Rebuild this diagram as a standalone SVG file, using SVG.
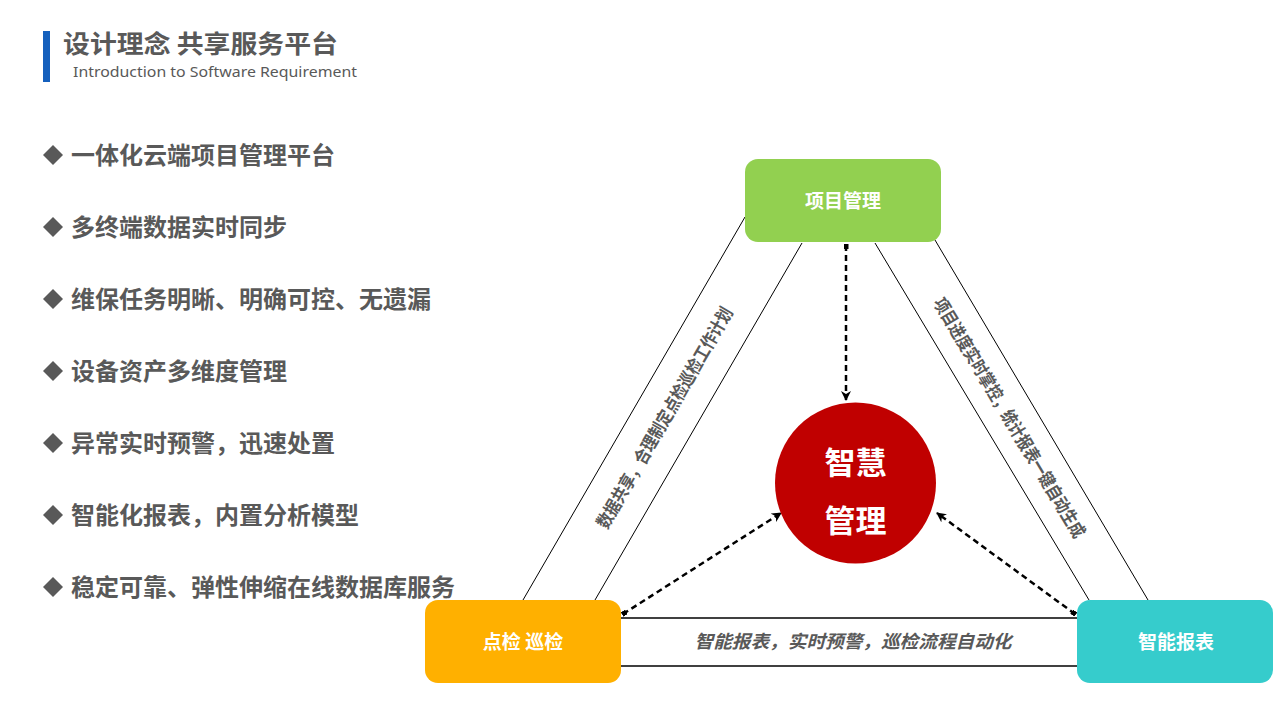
<svg xmlns="http://www.w3.org/2000/svg" width="1280" height="720" viewBox="0 0 1280 720">
<defs>
<style>
.cn{font-family:"Noto Sans CJK SC","Liberation Sans",sans-serif;font-weight:bold}
.bul{font-size:24px;fill:#595959}
.lbl{font-size:19px;fill:#ffffff;text-anchor:middle}
.side{font-size:18px;fill:#595959;text-anchor:middle}
.edge{stroke:#000;stroke-width:1;fill:none}
.dash{stroke:#000;stroke-width:2.5;stroke-dasharray:6 4;fill:none}
</style>
<marker id="ah" viewBox="0 0 10 10" refX="9" refY="5" markerWidth="4" markerHeight="4" orient="auto" markerUnits="strokeWidth">
<path d="M0,0 L10,5 L0,10 L3,5 z" fill="#000"/>
</marker>
<marker id="tail" viewBox="0 0 10 10" refX="2" refY="5" markerWidth="2" markerHeight="2" orient="auto" markerUnits="strokeWidth">
<rect x="0" y="0" width="10" height="10" fill="#000"/>
</marker>
</defs>
<rect width="1280" height="720" fill="#fff"/>

<g id="header">
<rect x="43" y="31" width="7" height="51" fill="#1560BD"/>
<text x="63" y="53" class="cn" font-size="25" fill="#595959" textLength="275" lengthAdjust="spacingAndGlyphs">设计理念 共享服务平台</text>
<text x="73" y="77" font-family="'Noto Sans','Liberation Sans',sans-serif" font-size="14" fill="#595959" textLength="284" lengthAdjust="spacingAndGlyphs">Introduction to Software Requirement</text>
</g>

<g id="bullets">
<g fill="#595959">
<path d="M53,145 L63,155 L53,165 L43,155 z"/>
<path d="M53,217 L63,227 L53,237 L43,227 z"/>
<path d="M53,289 L63,299 L53,309 L43,299 z"/>
<path d="M53,361 L63,371 L53,381 L43,371 z"/>
<path d="M53,433 L63,443 L53,453 L43,443 z"/>
<path d="M53,505 L63,515 L53,525 L43,515 z"/>
<path d="M53,577 L63,587 L53,597 L43,587 z"/>
</g>
<text x="71" y="164" class="cn bul">一体化云端项目管理平台</text>
<text x="71" y="236" class="cn bul">多终端数据实时同步</text>
<text x="71" y="308" class="cn bul">维保任务明晰、明确可控、无遗漏</text>
<text x="71" y="380" class="cn bul">设备资产多维度管理</text>
<text x="71" y="452" class="cn bul">异常实时预警，迅速处置</text>
<text x="71" y="524" class="cn bul">智能化报表，内置分析模型</text>
<text x="71" y="596" class="cn bul">稳定可靠、弹性伸缩在线数据库服务</text>
</g>

<g id="connectors">
<line class="edge" x1="745" y1="217" x2="523" y2="600"/>
<line class="edge" x1="802" y1="243" x2="595" y2="600"/>
<line class="edge" x1="875" y1="243" x2="1089" y2="600"/>
<line class="edge" x1="935" y1="240" x2="1148" y2="600"/>
<line x1="621" y1="618" x2="1077" y2="618" stroke="#000" stroke-width="1.5"/>
<line x1="621" y1="666" x2="1077" y2="666" stroke="#000" stroke-width="1.5"/>
<line class="dash" x1="846" y1="245" x2="846" y2="400" marker-start="url(#tail)" marker-end="url(#ah)"/>
<line class="dash" x1="623" y1="614" x2="781" y2="513" marker-start="url(#tail)" marker-end="url(#ah)"/>
<line class="dash" x1="1075" y1="614" x2="937" y2="513" marker-start="url(#tail)" marker-end="url(#ah)"/>
<text class="cn side" transform="translate(665,418) rotate(-59.9)" dy="6" textLength="252" lengthAdjust="spacingAndGlyphs">数据共享，合理制定点检巡检工作计划</text>
<text class="cn side" transform="translate(1009,418) rotate(59)" dy="6" textLength="276" lengthAdjust="spacingAndGlyphs">项目进度实时掌控，统计报表一键自动生成</text>
<text x="853" y="648" class="cn" font-size="18" font-style="italic" fill="#595959" text-anchor="middle" textLength="317" lengthAdjust="spacingAndGlyphs">智能报表，实时预警，巡检流程自动化</text>
</g>

<g id="node-xmgl">
<rect x="745" y="159" width="196" height="83" rx="13" fill="#92D050"/>
<text x="843" y="208" class="cn lbl">项目管理</text>
</g>
<g id="node-djxj">
<rect x="425" y="600" width="196" height="83" rx="13" fill="#FFB000"/>
<text x="523" y="649" class="cn lbl">点检 巡检</text>
</g>
<g id="node-znbb">
<rect x="1077" y="600" width="196" height="83" rx="13" fill="#36CCCC"/>
<text x="1176" y="649" class="cn lbl">智能报表</text>
</g>
<g id="node-zhgl">
<circle cx="855.5" cy="483" r="80.5" fill="#C00000"/>
<text x="855.5" y="474" class="cn" font-size="31" fill="#fff" text-anchor="middle">智慧</text>
<text x="855.5" y="532" class="cn" font-size="31" fill="#fff" text-anchor="middle">管理</text>
</g>
</svg>
